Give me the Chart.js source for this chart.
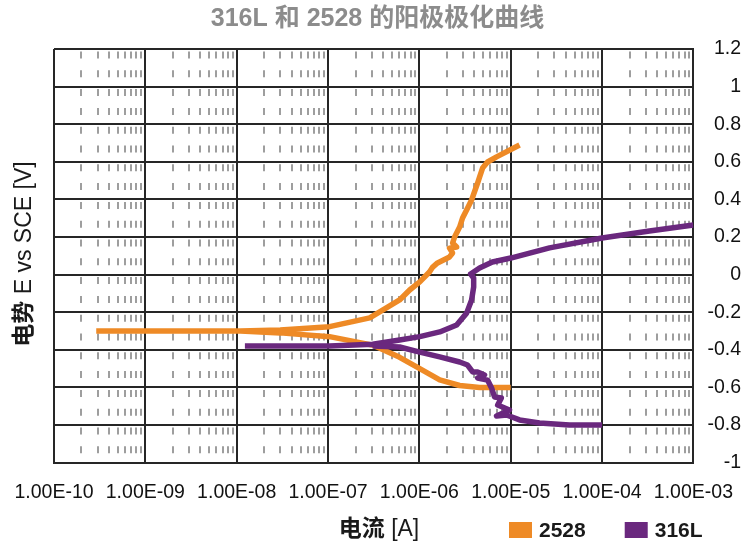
<!DOCTYPE html>
<html>
<head>
<meta charset="utf-8">
<script src="https://cdn.jsdelivr.net/npm/chart.js@4.4.1/dist/chart.umd.min.js"></script>
<style>
  html, body { margin: 0; padding: 0; background: #fff; }
</style>
</head>
<body>
<canvas id="chart" width="755" height="547"></canvas>
<script>
(function () {
	'use strict';

	// 2528 curve, cathodic branch (right to left) then anodic branch
	const current2528Cathodic = [1.0e-5, 4.56e-6, 2.76e-6, 1.67e-6, 1.01e-6, 6.08e-7, 3.08e-7, 1.04e-7, 3.0e-8, 1.1e-8, 2.9e-10];
	const potential2528Cathodic = [-0.60, -0.60, -0.59, -0.56, -0.50, -0.44, -0.375, -0.33, -0.31, -0.30, -0.30];
	const current2528Anodic = [1.1e-8, 3.0e-8, 1.04e-7, 2.86e-7, 6.08e-7, 7.83e-7, 1.01e-6, 1.29e-6, 1.40e-6, 1.58e-6, 2.14e-6, 2.31e-6, 2.14e-6, 2.56e-6, 2.31e-6, 2.43e-6, 2.76e-6, 2.97e-6, 3.29e-6, 3.73e-6, 4.34e-6, 4.56e-6, 4.92e-6, 5.58e-6, 7.0e-6, 1.25e-5];
	const potential2528Anodic = [-0.30, -0.295, -0.277, -0.23, -0.135, -0.082, -0.039, 0.014, 0.040, 0.062, 0.094, 0.115, 0.141, 0.147, 0.168, 0.200, 0.253, 0.301, 0.344, 0.397, 0.487, 0.519, 0.567, 0.599, 0.626, 0.689];

	// 316L curve
	const current316LAnodic = [1.23e-8, 1.04e-7, 3.08e-7, 6.08e-7, 1.01e-6, 1.67e-6, 2.56e-6, 3.29e-6, 3.73e-6, 3.93e-6, 3.93e-6, 3.64e-6, 4.56e-6, 6.3e-6, 1.0e-5, 2.66e-5, 1.0e-4, 3.3e-4, 1.0e-3];
	const potential316LAnodic = [-0.38, -0.38, -0.37, -0.348, -0.33, -0.305, -0.268, -0.205, -0.135, -0.066, -0.018, 0.003, 0.035, 0.067, 0.088, 0.142, 0.195, 0.232, 0.264];
	const current316LCathodic = [3.08e-7, 6.08e-7, 1.01e-6, 1.67e-6, 2.76e-6, 3.37e-6, 3.83e-6, 4.34e-6, 5.17e-6, 4.34e-6, 5.58e-6, 6.17e-6, 6.65e-6, 7.9e-6, 7.2e-6, 9.7e-6, 7.0e-6, 9.0e-6, 1.25e-5, 2.07e-5, 4.4e-5, 1.0e-4];
	const potential316LCathodic = [-0.38, -0.385, -0.412, -0.438, -0.465, -0.481, -0.518, -0.518, -0.534, -0.55, -0.561, -0.603, -0.651, -0.656, -0.694, -0.72, -0.752, -0.747, -0.773, -0.789, -0.80, -0.80];

	const seriesNames = ['2528', '316L'];
	const seriesColors = ['#ee8a26', '#6a287e'];
	const decadeExponents = [-10, -9, -8, -7, -6, -5, -4, -3];
	const chartTitle = '316L 和 2528 的阳极极化曲线';
	const yTitle = ['电势', ' E vs SCE [V]'];
	const xTitle = ['电流', ' [A]'];

	const FAMILY = "'Liberation Sans', 'Noto Sans CJK SC', sans-serif";

	function points(xs, ys) {
		return xs.map(function (x, i) { return { x: x, y: ys[i] }; });
	}
	// a null point breaks the line between the two branches
	const gap = { x: 1e-8, y: null };

	const data2528 = points(current2528Cathodic, potential2528Cathodic).concat([gap], points(current2528Anodic, potential2528Anodic));
	const data316L = points(current316LAnodic, potential316LAnodic).concat([gap], points(current316LCathodic, potential316LCathodic));

	function formatDecade(v) {
		const e = Math.round(Math.log10(v));
		const a = Math.abs(e);
		return '1.00E' + (e < 0 ? '-' : '+') + (a < 10 ? '0' + a : a);
	}

	const textPlugin = {
		id: 'axisTexts',
		afterDraw(chart) {
			const ctx = chart.ctx;
			const bold = 'bold 23px ' + FAMILY;
			const reg = '23px ' + FAMILY;

			// y title, rotated on the left
			ctx.save();
			ctx.fillStyle = '#1a1a1a';
			ctx.textBaseline = 'middle';
			ctx.textAlign = 'left';
			ctx.font = bold;
			let w1 = ctx.measureText(yTitle[0]).width;
			ctx.font = reg;
			let w2 = ctx.measureText(yTitle[1]).width;
			ctx.translate(25, 254);
			ctx.rotate(-Math.PI / 2);
			ctx.font = bold;
			ctx.fillText(yTitle[0], -(w1 + w2) / 2, 0);
			ctx.font = reg;
			ctx.fillText(yTitle[1], -(w1 + w2) / 2 + w1, 0);
			ctx.restore();

			// x title and legend on one row
			const rowY = 530;
			ctx.save();
			ctx.fillStyle = '#1a1a1a';
			ctx.textBaseline = 'middle';
			ctx.textAlign = 'left';
			ctx.font = bold;
			w1 = ctx.measureText(xTitle[0]).width;
			ctx.font = reg;
			w2 = ctx.measureText(xTitle[1]).width;
			const xs = 379 - (w1 + w2) / 2;
			ctx.font = bold;
			ctx.fillText(xTitle[0], xs, rowY);
			ctx.font = reg;
			ctx.fillText(xTitle[1], xs + w1, rowY);

			let lx = 509;
			ctx.font = 'bold 21px ' + FAMILY;
			chart.data.datasets.forEach(function (ds) {
				ctx.fillStyle = ds.borderColor;
				ctx.fillRect(lx, rowY - 8, 23, 16);
				ctx.fillStyle = '#1a1a1a';
				ctx.fillText(ds.label, lx + 30, rowY + 1);
				lx += 30 + ctx.measureText(ds.label).width + 39;
			});
			ctx.restore();
		}
	};

	new Chart(document.getElementById('chart'), {
		type: 'line',
		data: {
			datasets: [{
				label: seriesNames[0],
				data: data2528,
				borderColor: seriesColors[0],
				backgroundColor: seriesColors[0],
				order: 2
			}, {
				label: seriesNames[1],
				data: data316L,
				borderColor: seriesColors[1],
				backgroundColor: seriesColors[1],
				order: 1
			}]
		},
		options: {
			responsive: false,
			animation: false,
			spanGaps: false,
			elements: {
				point: { radius: 0, hoverRadius: 0 },
				line: { borderWidth: 5.5, tension: 0, borderJoinStyle: 'round', fill: false }
			},
			layout: { padding: { left: 14, right: 14, top: 0, bottom: 25 } },
			plugins: {
				legend: { display: false },
				tooltip: { enabled: false },
				title: {
					display: true,
					text: chartTitle,
					color: '#8c8c8c',
					font: { family: FAMILY, size: 25, weight: 'bold' },
					padding: { top: 4, bottom: 15 }
				}
			},
			scales: {
				x: {
					type: 'logarithmic',
					min: 1e-10,
					max: 1e-3,
					afterBuildTicks(scale) {
						const ticks = [];
						decadeExponents.forEach(function (e, i) {
							ticks.push({ value: Number('1e' + e), decade: true });
							if (i < decadeExponents.length - 1) {
								for (let m = 2; m <= 9; m++) {
									ticks.push({ value: Number(m + 'e' + e), decade: false });
								}
							}
						});
						scale.ticks = ticks;
					},
					// first/last labels may overhang; the side boxes already leave room
					afterFit(scale) {
						scale.paddingLeft = 20;
						scale.paddingRight = 20;
					},
					ticks: {
						autoSkip: false,
						maxRotation: 0,
						padding: 18,
						color: '#111',
						font: { family: FAMILY, size: 19.5 },
						callback(value, index, ticks) {
							return ticks[index].decade ? formatDecade(value) : '';
						}
					},
					grid: {
						drawTicks: false,
						color(ctx) { return ctx.tick && ctx.tick.decade ? '#262626' : '#9e9e9e'; },
						lineWidth: 2
					},
					border: {
						color: '#262626',
						width: 2,
						dash(ctx) { return ctx.tick && !ctx.tick.decade ? [7, 11.8] : []; },
						dashOffset(ctx) { return ctx.tick && !ctx.tick.decade ? 16.3 : 0; }
					}
				},
				y: {
					position: 'right',
					min: -1,
					max: 1.2,
					ticks: {
						stepSize: 0.2,
						crossAlign: 'far',
						padding: 7,
						color: '#111',
						font: { family: FAMILY, size: 19.5 },
						callback(value) {
							return String(Number(value.toFixed(1)));
						}
					},
					grid: { drawTicks: false, color: '#262626', lineWidth: 2 },
					border: { color: '#262626', width: 2 }
				},
				// empty left axis that only reserves room for the rotated y title
				yTitleSpace: {
					position: 'left',
					display: true,
					ticks: { display: false },
					grid: { display: false },
					border: { display: false },
					afterFit(scale) { scale.width = 40; }
				}
			}
		},
		plugins: [textPlugin]
	});
})();
</script>
</body>
</html>
